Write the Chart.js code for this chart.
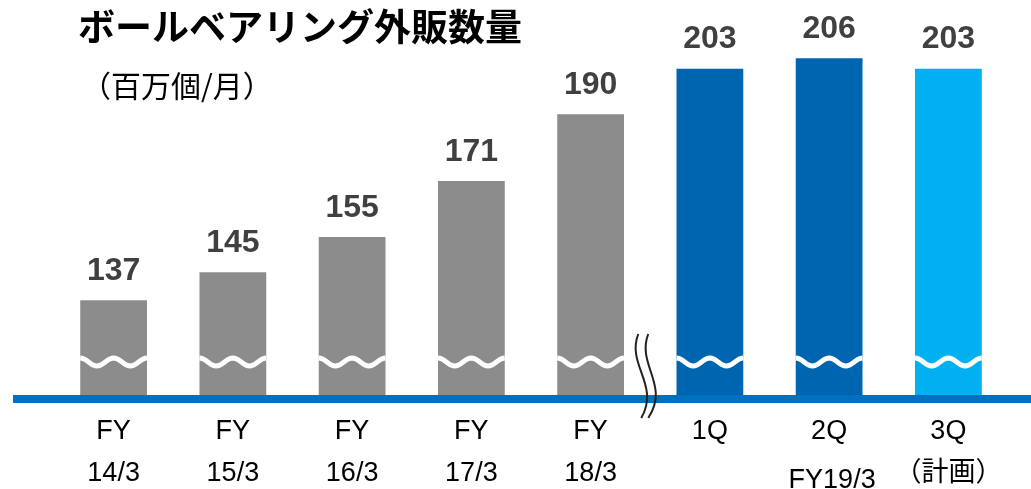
<!DOCTYPE html>
<html>
<head>
<meta charset="utf-8">
<script src="https://cdn.jsdelivr.net/npm/chart.js@4.4.0/dist/chart.umd.min.js"></script>
<style>
html, body { margin:0; padding:0; background:#fff; }
</style>
</head>
<body>
<canvas id="sales" width="1031" height="489"></canvas>
<script>
var labels = [["FY","14/3"],["FY","15/3"],["FY","16/3"],["FY","17/3"],["FY","18/3"],"1Q","2Q",["3Q","（計画）"]];
var values = [137,145,155,171,190,203,206,203];
var barColors = ["#8c8c8c","#8c8c8c","#8c8c8c","#8c8c8c","#8c8c8c","#0065b0","#0065b0","#00b0f0"];
var titleText = "ボールベアリング外販数量";
var unitText = "（百万個/月）";
var groupText = "FY19/3";

// wavy breaks, axis line, value labels, titles
var extras = {
	id: "extras",
	afterDatasetsDraw: function (chart) {
		var ctx = chart.ctx;
		var area = chart.chartArea;
		var meta = chart.getDatasetMeta(0);
		ctx.save();

		ctx.strokeStyle = "#fff";
		ctx.lineWidth = 5;
		for (var i = 0; i < meta.data.length; i++) {
			var b = meta.data[i];
			var left = b.x - b.width / 2;
			var wy = area.bottom - 33;
			ctx.beginPath();
			for (var k = 0; k <= 40; k++) {
				var px = left + b.width * k / 40;
				var py = wy - 4 * Math.cos(4 * Math.PI * k / 40);
				if (k == 0) ctx.moveTo(px, py); else ctx.lineTo(px, py);
			}
			ctx.stroke();
		}

		ctx.fillStyle = "#0070c0";
		ctx.fillRect(13, area.bottom, chart.width - 13, 8);

		// break mark
		var mx = (meta.data[4].x + meta.data[5].x) / 2 - 12;
		ctx.strokeStyle = "#222";
		ctx.lineWidth = 2;
		for (var j = 0; j < 2; j++) {
			var o = j * 10;
			ctx.beginPath();
			ctx.moveTo(mx + o, area.bottom - 61);
			ctx.bezierCurveTo(mx - 12 + o, area.bottom - 30, mx + 22 + o, area.bottom - 10, mx + 3 + o - j * 3, area.bottom + 23);
			ctx.stroke();
		}

		ctx.fillStyle = "#404040";
		ctx.font = "bold 32px 'Liberation Sans', Arial";
		ctx.textAlign = "center";
		ctx.textBaseline = "middle";
		for (var i = 0; i < meta.data.length; i++) {
			ctx.fillText(values[i], meta.data[i].x, meta.data[i].y - 29);
		}

		ctx.fillStyle = "#000";
		ctx.font = "27px 'Liberation Sans', Arial";
		ctx.fillText(groupText, meta.data[6].x + 3, 481);

		ctx.textAlign = "left";
		ctx.font = "bold 37px 'Noto Sans CJK JP'";
		ctx.fillText(titleText, 78, 27);
		ctx.font = "30px 'Noto Sans CJK JP'";
		ctx.fillText(unitText, 81, 86);
		ctx.restore();
	}
};

var chart = new Chart(document.getElementById("sales"), {
	type: "bar",
	data: {
		labels: labels,
		datasets: [{
			data: values,
			backgroundColor: barColors,
			borderWidth: 0,
			barPercentage: 0.56,
			categoryPercentage: 1
		}]
	},
	options: {
		responsive: false,
		animation: false,
		devicePixelRatio: 1,
		layout: { padding: { top: 9, left: 54, right: 23, bottom: 0 } },
		plugins: { legend: { display: false }, tooltip: { enabled: false } },
		scales: {
			y: { display: false, min: 110, max: 220 },
			x: {
				grid: { display: false, drawTicks: false },
				border: { display: false },
				ticks: {
					color: "#000",
					padding: 16,
					autoSkip: false,
					maxRotation: 0,
					font: { family: "'Liberation Sans', Arial, 'Noto Sans CJK JP'", size: 27, lineHeight: 42 / 27 }
				},
				afterFit: function (s) { s.height = 94; }
			}
		}
	},
	plugins: [extras]
});
</script>
</body>
</html>
